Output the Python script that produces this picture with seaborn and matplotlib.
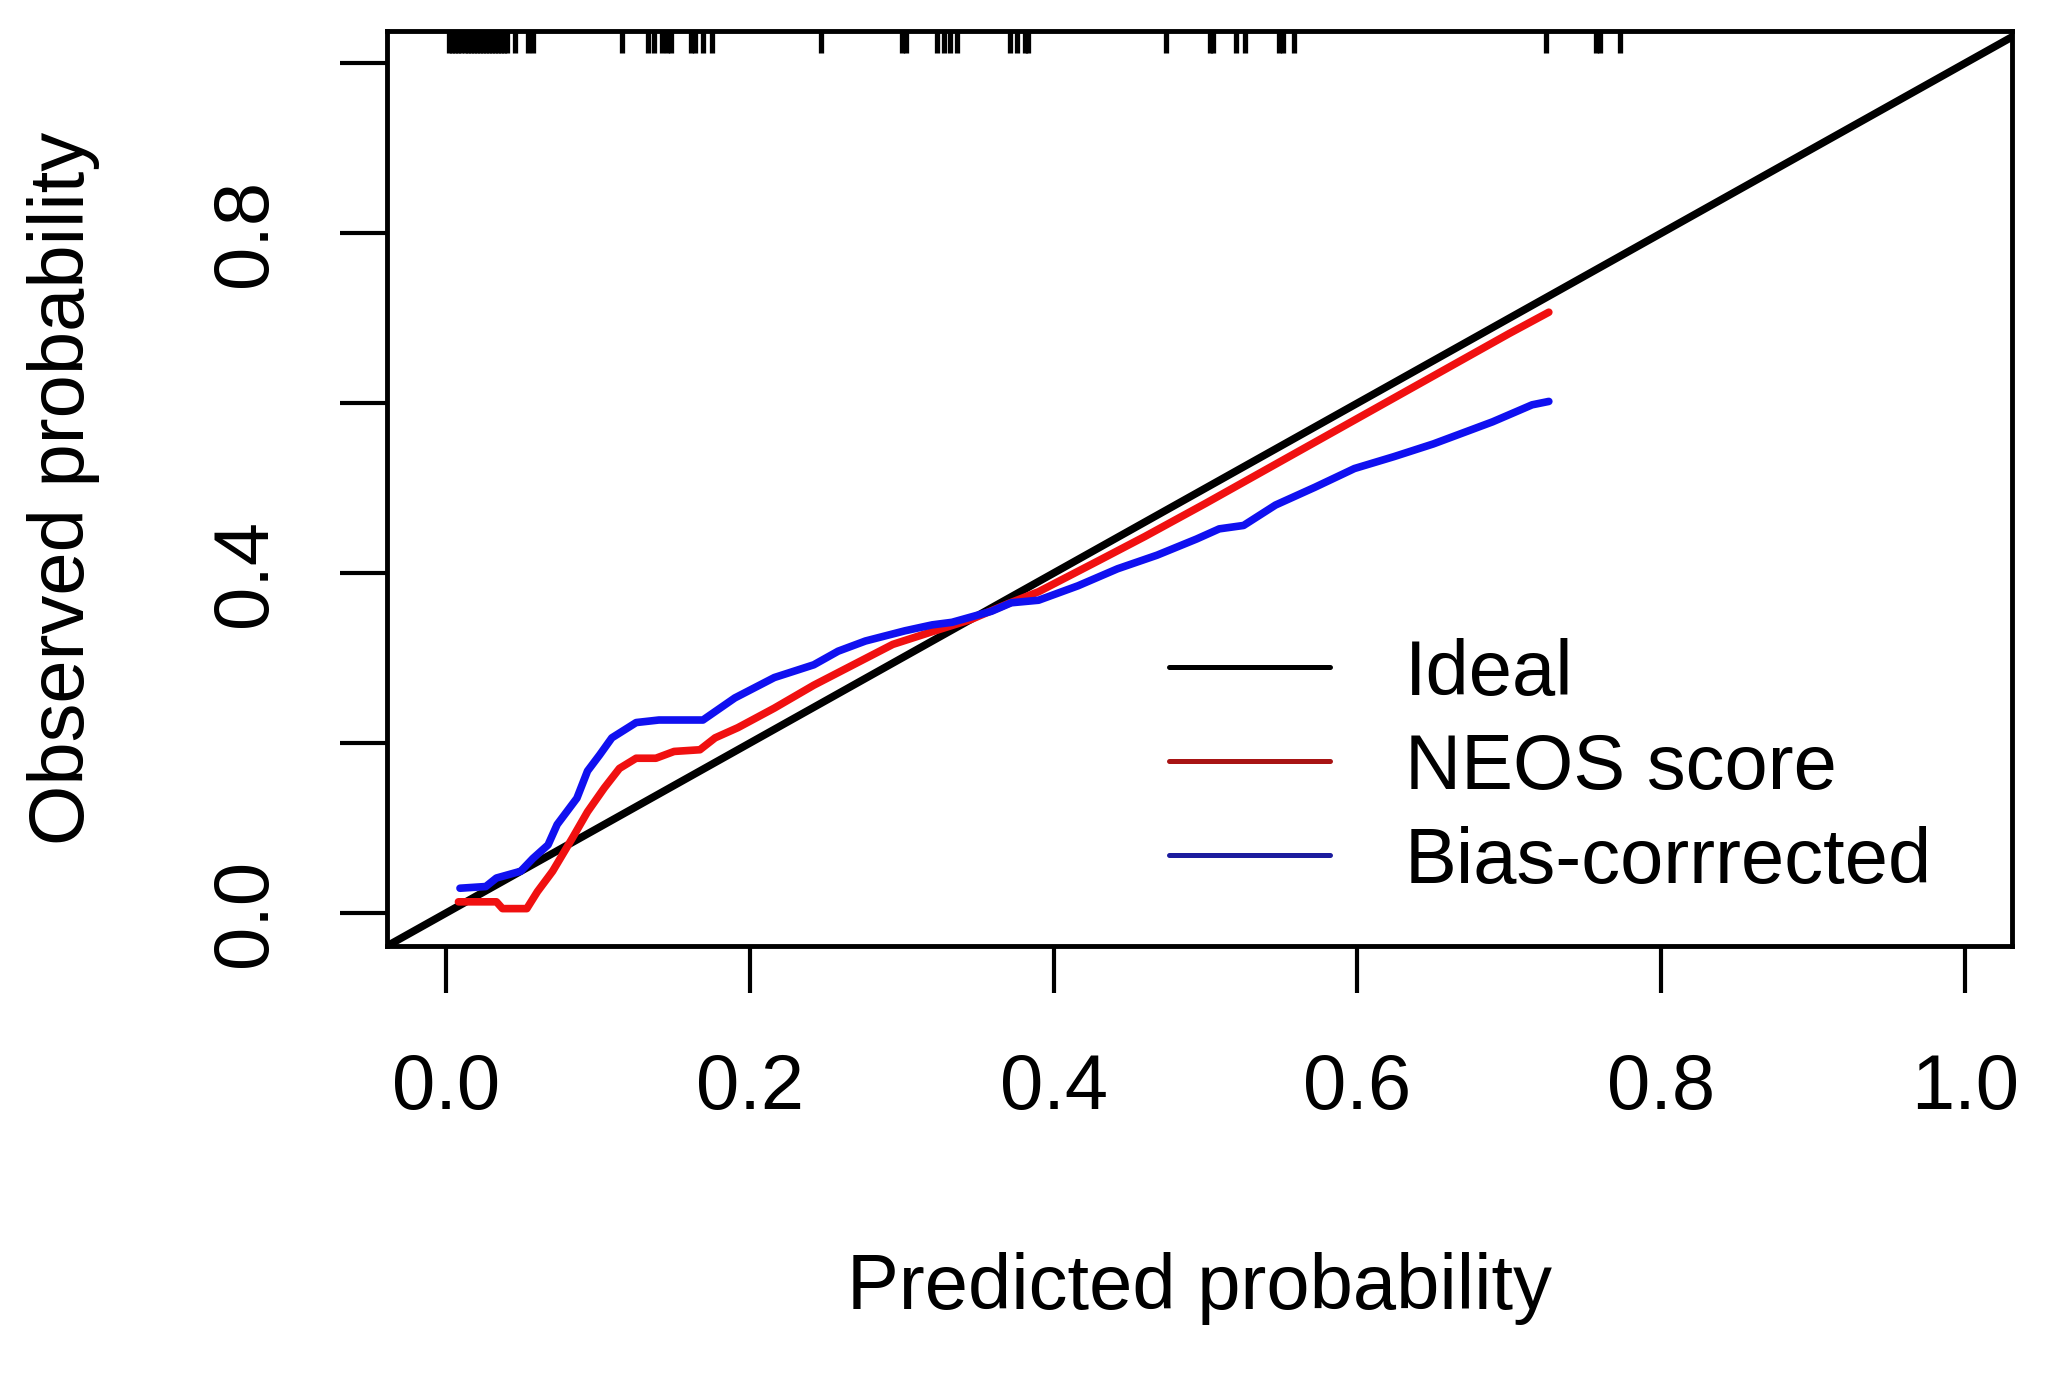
import numpy as np
import pandas as pd
import matplotlib
matplotlib.use('Agg')
import matplotlib.pyplot as plt
import seaborn as sns
from matplotlib.lines import Line2D

sns.set_style('white')
plt.rcParams['font.family'] = ['Liberation Sans', 'DejaVu Sans']
plt.rcParams['text.color'] = 'black'
plt.rcParams['axes.labelcolor'] = 'black'
plt.rcParams['xtick.color'] = 'black'
plt.rcParams['ytick.color'] = 'black'

# calibration curves
neos_x = [0.008, 0.033, 0.037, 0.053, 0.060, 0.070, 0.083, 0.093, 0.104, 0.114,
          0.125, 0.138, 0.150, 0.167, 0.177, 0.192, 0.216, 0.242, 0.268, 0.294,
          0.320, 0.345, 0.370, 0.390, 0.430, 0.460, 0.500, 0.550, 0.600, 0.650,
          0.700, 0.726]
neos_y = [0.013, 0.013, 0.005, 0.005, 0.025, 0.049, 0.088, 0.119, 0.147, 0.170,
          0.182, 0.182, 0.190, 0.192, 0.206, 0.218, 0.241, 0.268, 0.292, 0.316,
          0.331, 0.345, 0.364, 0.378, 0.415, 0.443, 0.482, 0.532, 0.582, 0.632,
          0.682, 0.707]

bias_x = [0.009, 0.026, 0.033, 0.049, 0.057, 0.067, 0.073, 0.086, 0.093, 0.101,
          0.109, 0.125, 0.140, 0.169, 0.190, 0.216, 0.242, 0.258, 0.276, 0.302,
          0.320, 0.333, 0.359, 0.372, 0.390, 0.416, 0.442, 0.468, 0.494, 0.509,
          0.525, 0.546, 0.572, 0.598, 0.624, 0.650, 0.689, 0.715, 0.726]
bias_y = [0.029, 0.031, 0.041, 0.049, 0.064, 0.080, 0.104, 0.135, 0.167, 0.186,
          0.206, 0.224, 0.227, 0.227, 0.253, 0.277, 0.292, 0.308, 0.320, 0.332,
          0.339, 0.342, 0.355, 0.365, 0.368, 0.385, 0.405, 0.421, 0.440, 0.452,
          0.456, 0.480, 0.501, 0.523, 0.537, 0.552, 0.578, 0.598, 0.602]

# distribution of predicted probabilities (rug on top)
rug_x = [0.002, 0.004, 0.006, 0.008, 0.010, 0.012, 0.014, 0.016, 0.018, 0.020,
         0.022, 0.024, 0.026, 0.028, 0.030, 0.032, 0.034, 0.036, 0.038, 0.040,
         0.045, 0.054, 0.057, 0.116, 0.133, 0.137, 0.142, 0.145, 0.148, 0.161,
         0.164, 0.169, 0.175, 0.247, 0.300, 0.303, 0.323, 0.328, 0.332, 0.336,
         0.371, 0.376, 0.381, 0.383, 0.474, 0.503, 0.505, 0.520, 0.526, 0.548,
         0.551, 0.558, 0.724, 0.757, 0.760, 0.773]

xticks = [0.0, 0.2, 0.4, 0.6, 0.8, 1.0]
xtick_labels = ['0.0', '0.2', '0.4', '0.6', '0.8', '1.0']
yticks = [0.0, 0.2, 0.4, 0.6, 0.8, 1.0]
ytick_labels = ['0.0', '', '0.4', '', '0.8', '']

curves = pd.concat([
    pd.DataFrame({'pred': neos_x, 'obs': neos_y, 'model': 'NEOS score'}),
    pd.DataFrame({'pred': bias_x, 'obs': bias_y, 'model': 'Bias-corrrected'}),
])

fs = 56
fig = plt.figure(figsize=(20.47, 13.78), dpi=100)
ax = fig.add_axes([0.1891, 0.3135, 0.7938, 0.664])

ax.axline((0, 0), slope=1, color='black', lw=5.5, zorder=2)
sns.lineplot(data=curves, x='pred', y='obs', hue='model', sort=False,
             estimator=None, palette={'NEOS score': '#f01010', 'Bias-corrrected': '#1010f0'},
             lw=5.5, ax=ax, legend=False, zorder=3)

ax.vlines(rug_x, 0.976, 1.0, transform=ax.get_xaxis_transform(),
          color='black', lw=3.8, clip_on=False)

ax.set_xlim(-0.039, 1.031)
ax.set_ylim(-0.039, 1.038)
ax.set_xticks(xticks)
ax.set_xticklabels(xtick_labels)
ax.set_yticks(yticks)
ax.set_yticklabels(ytick_labels)
ax.tick_params(axis='both', length=34, width=3, color='black', labelsize=fs,
               labelcolor='black', pad=42, direction='out', left=True, bottom=True)
for lab in ax.get_yticklabels():
    lab.set_rotation(90)
    lab.set_verticalalignment('center')

for sp in ax.spines.values():
    sp.set_visible(True)
    sp.set_color('black')
    sp.set_linewidth(3.5)

ax.set_xlabel('Predicted probability', fontsize=fs, color='black')
ax.set_ylabel('Observed probability', fontsize=fs, color='black')
ax.xaxis.set_label_coords(0.5, -0.374)
ax.yaxis.set_label_coords(-0.199, 0.5)
ax.xaxis.label.set_verticalalignment('center')
ax.yaxis.label.set_verticalalignment('center')

handles = [Line2D([], [], color='black', lw=3.6),
           Line2D([], [], color='#a81414', lw=3.6),
           Line2D([], [], color='#1c1c9e', lw=3.6)]
leg = ax.legend(handles, ['Ideal', 'NEOS score', 'Bias-corrrected'],
                loc='center left', bbox_to_anchor=(0.481, 0.1945), frameon=False,
                fontsize=fs, handlelength=2.07, handletextpad=0.97,
                labelspacing=0.27, borderpad=0, borderaxespad=0)
for t in leg.get_texts():
    t.set_color('black')

fig.savefig('out.png', dpi=100, facecolor='white')
